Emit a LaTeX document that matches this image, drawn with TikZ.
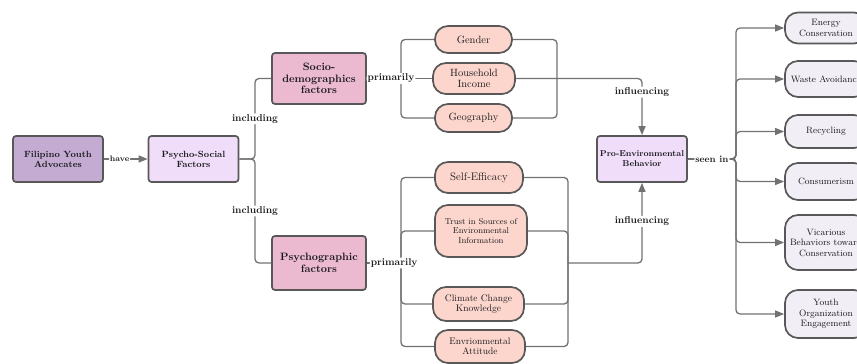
\documentclass[tikz,border=0pt]{standalone}
\usepackage{tikz}
\usetikzlibrary{arrows.meta, positioning}
\definecolor{cedge}{HTML}{585858}
\definecolor{cline}{HTML}{727272}
\definecolor{cink}{HTML}{1C1A1E}
\definecolor{cgrape}{HTML}{C3ABD2}
\definecolor{clilac}{HTML}{EFDDFA}
\definecolor{crose}{HTML}{EBBAD0}
\definecolor{cpeach}{HTML}{FCD6CC}
\definecolor{cmist}{HTML}{F1EFF5}
\newcommand{\fsz}[2]{\fontsize{#1}{#2}\selectfont}

\begin{document}
\begin{tikzpicture}[
  x=1pt, y=-1pt,
  box/.style={draw=cedge, line width=1.7pt, text=cink, align=center, rounded corners=3pt,
              inner sep=2pt, font=\fsz{9}{10}\bfseries},
  root/.style={box, fill=cgrape, minimum width=90pt, minimum height=46pt},
  hub/.style={box, fill=clilac, minimum width=90pt, minimum height=46pt},
  factor/.style={box, fill=crose, minimum width=94pt, font=\fsz{10.7}{11.5}\bfseries},
  trait/.style={draw=cedge, line width=1.7pt, fill=cpeach, text=cink, align=center,
                rounded corners=13pt, inner sep=2pt, font=\fsz{10.5}{11}},
  act/.style={draw=cedge, line width=1.7pt, fill=cmist, text=cink, align=center,
              rounded corners=13pt, inner sep=2pt, minimum width=82pt, font=\fsz{9.2}{10.5}},
  lbl/.style={fill=white, inner sep=1pt, text=cink, font=\fsz{10}{11}\bfseries},
  link/.style={draw=cline, line width=1.3pt, rounded corners=4pt},
  flow/.style={link, -{Triangle[length=9pt, width=7pt]}}
]
\useasboundingbox (0,0) rectangle (857,364);
\clip (0,0) rectangle (857,364);

% left chain
\node[root] (fya) at (58,159) {Filipino Youth\\Advocates};
\node[hub] (psf) at (193.5,159) {Psycho-Social\\Factors};
\node[factor, minimum height=51pt] (socio) at (319,78.5) {Socio-\\demographics\\factors};
\node[factor, minimum height=54pt] (psych) at (319,263) {Psychographic\\factors};

% socio-demographic traits
\node[trait, minimum width=77pt, minimum height=27pt] (gender) at (473.5,39.5) {Gender};
\node[trait, minimum width=82pt, minimum height=31pt] (income) at (474,78.5) {Household\\Income};
\node[trait, minimum width=77pt, minimum height=28pt] (geo) at (473.5,118) {Geography};

% psychographic traits
\node[trait, minimum width=88pt, minimum height=31pt, font=\fsz{11}{12}] (selfeff) at (479,177.5) {Self-Efficacy};
\node[trait, minimum width=92pt, minimum height=52pt, font=\fsz{8.5}{9.2}] (trust) at (481,231) {Trust in Sources of\\Environmental\\Information};
\node[trait, minimum width=91pt, minimum height=34pt, font=\fsz{9.5}{10.5}] (climate) at (478.5,304) {Climate Change\\Knowledge};
\node[trait, minimum width=90pt, minimum height=33pt, font=\fsz{9.5}{10.5}] (attitude) at (480,346.5) {Envrionmental\\Attitude};

\node[hub, font=\fsz{8.5}{10}\bfseries] (peb) at (642,159) {Pro-Environmental\\Behavior};

% behaviours
\node[act, minimum height=31pt] (energy)    at (826,28)    {Energy\\Conservation};
\node[act, minimum height=36pt] (waste)     at (826,79)    {Waste Avoidance};
\node[act, minimum height=33pt] (recycle)   at (826,131.5) {Recycling};
\node[act, minimum height=37pt] (consume)   at (826,181.5) {Consumerism};
\node[act, minimum height=55pt] (vicarious) at (826,242.5) {Vicarious\\Behaviors toward\\Conservation};
\node[act, minimum height=48pt] (youth)     at (826,314)   {Youth\\Organization\\Engagement};

% bracket points
\coordinate (j1) at (255,159);
\coordinate (b1) at (401,78.5);
\coordinate (m1) at (557,78.5);
\coordinate (b2) at (401,263);
\coordinate (m2) at (568,263);
\coordinate (s1) at (736,159);

\draw[flow] (fya) -- node[lbl, pos=0.36, font=\fsz{8}{9}\bfseries] {have} (psf);

\draw[link] (psf.east) -- (j1) |- node[lbl, pos=0.25] {including} (socio.west);
\draw[link] (psf.east) -- (j1) |- node[lbl, pos=0.25] {including} (psych.west);

\draw[link] (b1) |- (gender.west);
\draw[link] (b1) |- (geo.west);
\draw[link] (gender.east) -| (m1);
\draw[link] (geo.east) -| (m1);
\draw[link] (socio.east) -- node[lbl, pos=0.37] {primarily} (income.west);
\draw[flow] (income.east) -| node[lbl, pos=0.62] {influencing} (peb.north);

\draw[link] (b2) |- (selfeff.west);
\draw[link] (b2) |- (trust.west);
\draw[link] (b2) |- (climate.west);
\draw[link] (b2) |- (attitude.west);
\draw[link] (selfeff.east) -| (m2);
\draw[link] (trust.east) -| (m2);
\draw[link] (climate.east) -| (m2);
\draw[link] (attitude.east) -| (m2);
\draw[link] (psych.east) -- node[lbl, pos=0.8] {primarily} (b2);
\draw[flow] (m2) -| node[lbl, pos=0.76] {influencing} (peb.south);

\draw[flow] (peb.east) -- (s1) |- (energy.west);
\draw[flow] (peb.east) -- (s1) |- (waste.west);
\draw[flow] (peb.east) -- (s1) |- (recycle.west);
\draw[flow] (peb.east) -- (s1) |- (vicarious.west);
\draw[flow] (peb.east) -- (s1) |- (youth.west);
\draw[flow] (peb.east) -- node[lbl, font=\fsz{9.5}{10}\bfseries] {seen in} (s1) |- (consume.west);
\end{tikzpicture}
\end{document}
